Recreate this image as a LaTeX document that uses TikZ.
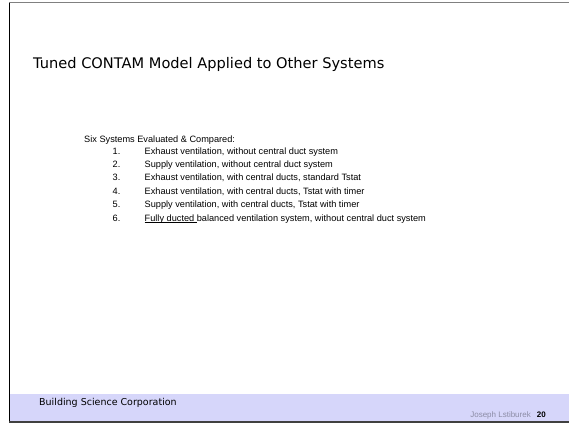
\documentclass[tikz,border=0pt]{standalone}
\usepackage{fontspec}
\setmainfont{Liberation Sans}
\newfontfamily\titlefont{DejaVu Sans}
\definecolor{footband}{RGB}{214,214,250}
\definecolor{framegray}{RGB}{128,128,128}
\definecolor{authorgray}{RGB}{140,140,165}
\newcommand{\lowuline}[1]{\setbox0\hbox{#1}\rlap{\rule[-1.5pt]{\wd0}{0.6pt}}\box0}
\tikzset{
	item/.style={anchor=base west,inner sep=0pt,font=\fontsize{9.2}{11}\selectfont},
}
\begin{document}
\begin{tikzpicture}[x=1pt,y=-1pt]
	\useasboundingbox (0,0) rectangle (569,424);
	% footer band
	\fill[footband] (9,394) rectangle (569,422);
	\draw[framegray,line width=1.2pt] (9,2.7) -- (569,2.7);
	\draw[black,line width=1pt] (9,2.7) -- (9,422);
	\draw[black!75,line width=1.2pt] (9,422) -- (569,422);
	% title
	\node[anchor=base west,inner sep=0pt,font=\titlefont\fontsize{14.6}{17}\selectfont] (title) at (33,68) {Tuned CONTAM Model Applied to Other Systems};
	% list
	\node[item] (head) at (84,142) {Six Systems Evaluated \& Compared:};
	\node[item] (n1) at (112.5,154.5) {1.};
	\node[item] (t1) at (144.5,154.5) {Exhaust ventilation, without central duct system};
	\node[item] (n2) at (112.5,167.5) {2.};
	\node[item] (t2) at (144.5,167.5) {Supply ventilation, without central duct system};
	\node[item] (n3) at (112.5,180.5) {3.};
	\node[item] (t3) at (144.5,180.5) {Exhaust ventilation, with central ducts, standard Tstat};
	\node[item] (n4) at (112.5,194) {4.};
	\node[item] (t4) at (144.5,194) {Exhaust ventilation, with central ducts, Tstat with timer};
	\node[item] (n5) at (112.5,207.5) {5.};
	\node[item] (t5) at (144.5,207.5) {Supply ventilation, with central ducts, Tstat with timer};
	\node[item] (n6) at (112.5,221.5) {6.};
	\node[item] (t6) at (144.5,221.5) {\lowuline{Fully ducted }balanced ventilation system, without central duct system};
	% footer text
	\node[anchor=base west,inner sep=0pt,font=\titlefont\fontsize{9.5}{11}\selectfont] (corp) at (39,405) {Building Science Corporation};
	\node[anchor=base east,inner sep=0pt,font=\bfseries\fontsize{8}{9}\selectfont] (page) at (546,417) {20};
	\node[anchor=base east,inner sep=0pt,font=\fontsize{8}{9}\selectfont,text=authorgray] (author) at (531,417) {Joseph Lstiburek};
\end{tikzpicture}
\end{document}
